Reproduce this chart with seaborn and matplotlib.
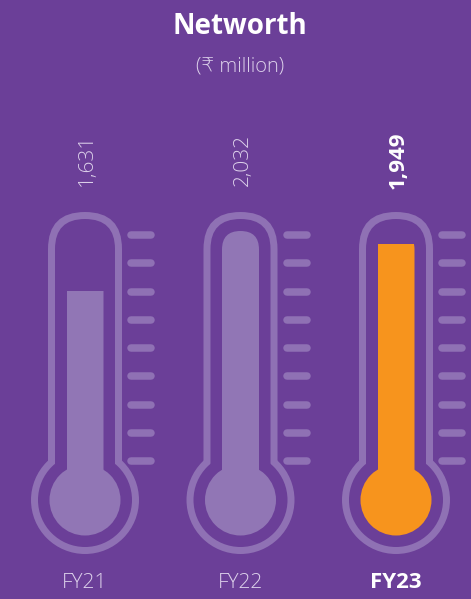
import numpy as np
import matplotlib.pyplot as plt
import seaborn as sns
from matplotlib.patches import FancyBboxPatch, Circle

# Networth (INR million) by fiscal year
years = ["FY21", "FY22", "FY23"]
networth = [1631, 2032, 1949]
value_labels = ["1,631", "2,032", "1,949"]
highlight = "FY23"

BG = "#6B3F98"
SHELL = "#8F71B4"
FILL = "#9176B5"
ORANGE = "#F7941D"
SOFT = "#DCD0EA"

W, H = 471, 599
X0, STEP = 85, 155.5          # pixel centre of first thermometer, spacing
Y0, PX_PER_UNIT = 536, 0.15   # pixel row of value 0, pixels per INR million

sns.set_theme(style="white")
plt.rcParams["font.family"] = ["Open Sans", "DejaVu Sans"]

fig = plt.figure(figsize=(W / 100, H / 100), dpi=100, facecolor=BG)

# decoration layer in pixel coordinates
deco = fig.add_axes([0, 0, 1, 1])
deco.set_xlim(0, W)
deco.set_ylim(H, 0)
deco.axis("off")

# data layer: categories on x, networth on y
ax = fig.add_axes([0, 0, 1, 1], zorder=2)
palette = {y: (ORANGE if y == highlight else FILL) for y in years}
sns.barplot(x=years, y=networth, hue=years, palette=palette, width=37 / STEP,
            saturation=1, errorbar=None, legend=False, linewidth=0, ax=ax)
ax.set_xlim(-X0 / STEP, (W - X0) / STEP)
ax.set_ylim((Y0 - H) / PX_PER_UNIT, Y0 / PX_PER_UNIT)
ax.patch.set_visible(False)
ax.axis("off")

for i, year in enumerate(years):
    cx = X0 + STEP * i
    col = palette[year]

    # glass outline: outer shape in shell colour, inner in background
    for half, top, r_bulb, c in [(37, 212, 54, SHELL), (30, 219, 47, BG)]:
        deco.add_patch(FancyBboxPatch((cx - half, top), 2 * half, 290 - (top - 212) * 2,
                                      boxstyle=f"round,pad=0,rounding_size={half}",
                                      fc=c, ec="none"))
        deco.add_patch(Circle((cx, 500), r_bulb, fc=c, ec="none"))

    # bulb
    deco.add_patch(Circle((cx, 500), 35.5, fc=col, ec="none", zorder=3))

    # scale ticks
    for ty in np.linspace(235, 461, 9):
        deco.plot([cx + 46, cx + 66], [ty, ty], color=SHELL, lw=5.4,
                  solid_capstyle="round", zorder=3)

    bold = year == highlight
    fs = 16 if bold else 15
    fw = "bold" if bold else "light"
    tc = "white" if bold else SOFT
    deco.text(cx + 2, 160, value_labels[i], rotation=90, ha="center", va="center",
              rotation_mode="anchor", fontsize=fs, fontweight=fw, color=tc)
    deco.text(cx, 583, year, ha="center", va="center",
              fontsize=fs, fontweight=fw, color=tc)

# clip mercury columns to the inner tube (round top when full, ends inside bulb)
for p in ax.patches:
    idx = int(round(p.get_x() + p.get_width() / 2))
    cx = X0 + STEP * idx
    p.set_facecolor(palette[years[idx]])
    p.set_edgecolor("none")
    p.set_alpha(None)
    clip = FancyBboxPatch((cx - 18.5, 231), 37, 274,
                          boxstyle="round,pad=0,rounding_size=18.5",
                          transform=deco.transData)
    p.set_clip_path(clip)

deco.text(240, 26, "Networth", ha="center", va="center", fontsize=20,
          fontweight="bold", color="white")
deco.text(240, 67, "(₹ million)", ha="center", va="center", fontsize=14.5,
          fontweight="light", color=SOFT)

fig.savefig("out.png", dpi=100, facecolor=BG)
